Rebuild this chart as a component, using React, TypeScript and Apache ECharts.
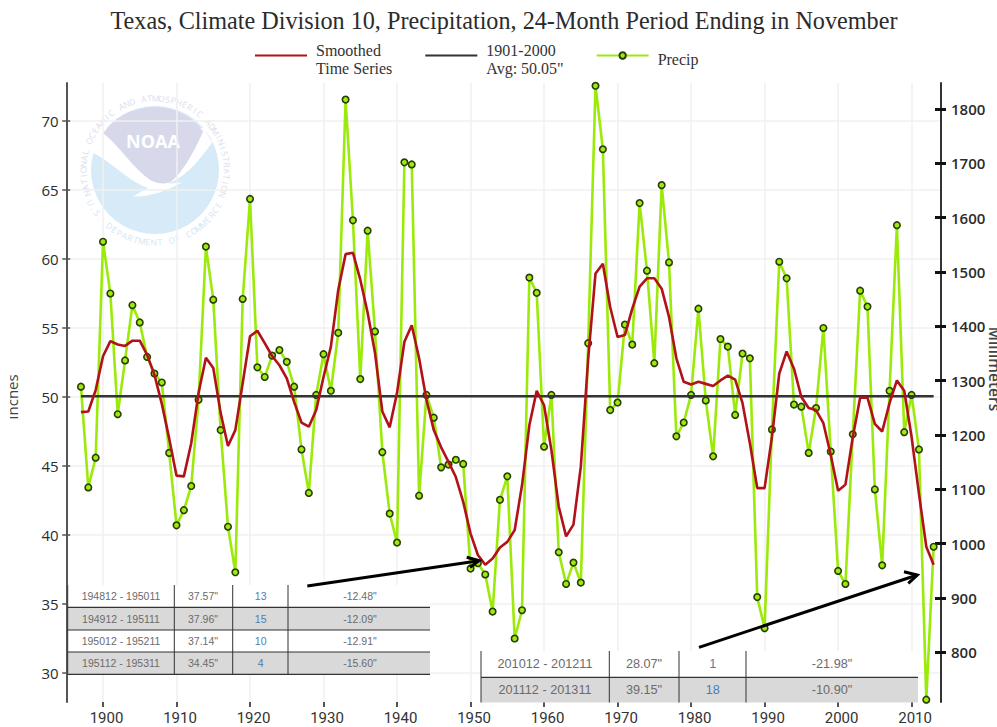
import React, { useEffect, useRef } from "react";
import * as echarts from "echarts";

const FIRST_YEAR = 1897;
const precip = [
  50.75, 43.45, 45.6, 61.25, 57.5, 48.75, 52.65, 56.65, 55.4, 52.9,
  51.7, 51.05, 45.95, 40.7, 41.8, 43.55, 49.8, 60.9, 57.05, 47.6,
  40.6, 37.3, 57.1, 64.35, 52.15, 51.45, 53.0, 53.4, 52.55, 50.75,
  46.2, 43.05, 50.15, 53.1, 50.45, 54.65, 71.55, 62.8, 51.3, 62.05,
  54.75, 46.0, 41.55, 39.45, 67.0, 66.85, 42.85, 50.15, 48.5, 44.9,
  45.1, 45.45, 45.15, 37.57, 37.96, 37.14, 34.45, 42.55, 44.25, 32.5,
  34.55, 58.65, 57.55, 46.4, 50.15, 38.75, 36.45, 38.0, 36.55, 53.9,
  72.55, 67.95, 49.05, 49.6, 55.25, 53.8, 64.05, 59.15, 52.45, 65.35,
  59.75, 47.15, 48.15, 50.15, 56.4, 49.75, 45.7, 54.2, 53.65, 48.7,
  53.15, 52.8, 35.5, 33.25, 47.65, 59.8, 58.6, 49.45, 49.3, 45.95,
  49.2, 55.0, 46.05, 37.4, 36.45, 47.3, 57.7, 56.55, 43.3, 37.8,
  50.45, 62.45, 47.45, 50.15, 46.2, 28.07, 39.15,
];
const smoothed = [
  48.9, 48.95, 50.5, 52.95, 54.05, 53.8, 53.7, 54.08, 54.08, 53.05,
  51.6, 49.5, 47.0, 44.3, 44.25, 46.65, 50.3, 52.85, 52.1, 48.85,
  46.45, 47.6, 51.0, 54.4, 54.8, 53.9, 52.97, 52.3, 51.35, 49.65,
  48.15, 47.85, 49.05, 51.45, 53.65, 57.75, 60.35, 60.45, 58.5, 56.1,
  53.2, 48.95, 47.8, 50.3, 54.0, 55.2, 52.8, 49.8, 47.6, 46.35,
  45.3, 44.2, 42.4, 40.1, 38.55, 37.85, 38.3, 39.1, 39.5, 40.35,
  43.6, 47.95, 50.45, 49.4, 46.15, 42.05, 39.9, 40.75, 44.95, 52.75,
  58.95, 59.65, 56.5, 54.35, 54.5, 56.4, 58.0, 58.6, 58.6, 57.85,
  55.8, 52.8, 51.1, 50.9, 51.1, 50.95, 50.8, 51.2, 51.55, 51.25,
  49.55, 46.65, 43.4, 43.4, 47.1, 51.7, 53.3, 52.05, 50.0, 49.2,
  49.05, 48.1, 45.8, 43.2, 43.65, 47.1, 49.95, 49.95, 48.05, 47.5,
  49.55, 51.2, 50.45, 47.1, 43.0, 39.15, 37.85,
];
const AVERAGE = 50.05;

const xTicks = [1900, 1910, 1920, 1930, 1940, 1950, 1960, 1970, 1980, 1990, 2000, 2010];
const inchTicks = [30, 35, 40, 45, 50, 55, 60, 65, 70];
const mmTicks = [800, 900, 1000, 1100, 1200, 1300, 1400, 1500, 1600, 1700, 1800];

const TITLE = "Texas, Climate Division 10, Precipitation, 24-Month Period Ending in November";
const SMOOTH_NAME = "Smoothed\nTime Series";
const AVG_NAME = '1901-2000\nAvg: 50.05"';
const PRECIP_NAME = "Precip";

const tableOneRows = [
  ["194812 - 195011", '37.57"', "13", '-12.48"'],
  ["194912 - 195111", '37.96"', "15", '-12.09"'],
  ["195012 - 195211", '37.14"', "10", '-12.91"'],
  ["195112 - 195311", '34.45"', "4", '-15.60"'],
];
const tableTwoRows = [
  ["201012 - 201211", '28.07"', "1", '-21.98"'],
  ["201112 - 201311", '39.15"', "18", '-10.90"'],
];

const Y_MIN = 27.9;
const Y_MAX = 72.75;
const MM = 25.4;

const CX = 155;
const CY = 170;

const CIRCLE_UP = "M 310,400 C 350,345 410,322 465,322 C 520,322 575,345 610,395 C 585,450 555,510 515,545 C 495,555 470,552 450,540 C 400,505 360,440 310,400 Z";
const BIRD =
  "M 275,458 C 330,480 385,545 445,565 C 430,572 415,580 400,590 C 450,592 500,572 548,548 L 505,552 C 560,530 600,480 637,428 L 612,385 L 300,385 Z";

function table(rows: string[][], opt: any) {
  const els: any[] = [];
  const z = 10;
  rows.forEach((row, r) => {
    const top = opt.rowTops[r];
    const bottom = opt.rowTops[r + 1];
    els.push({
      type: "rect", z,
      shape: { x: opt.left, y: top, width: opt.right - opt.left, height: bottom - top },
      style: { fill: r % 2 ? "#d9d9d9" : "#ffffff" },
    });
    row.forEach((cell, c) => {
      els.push({
        type: "text", z: z + 1, x: opt.centers[c], y: (top + bottom) / 2,
        style: {
          text: cell, font: `${opt.font}px "Liberation Sans"`,
          fill: c === 2 ? "#4f7cb5" : "#6b6b6b", align: "center", verticalAlign: "middle",
        },
      });
    });
  });
  opt.rowLines.forEach((y: number) => {
    els.push({
      type: "line", z: z + 1,
      shape: { x1: opt.left, y1: y, x2: opt.right, y2: y },
      style: { stroke: "#333", lineWidth: 1.2 },
    });
  });
  [opt.left, ...opt.cols].forEach((x: number) => {
    els.push({
      type: "line", z: z + 1,
      shape: { x1: x, y1: opt.rowTops[0], x2: x, y2: opt.rowTops[rows.length] },
      style: { stroke: "#333", lineWidth: 1 },
    });
  });
  return els;
}

function arrow(from: number[], tip: number[], b1: number[], b2: number[]) {
  const style = { stroke: "#000", lineWidth: 3, fill: "none", lineCap: "butt" };
  return [
    { type: "line", z: 12, shape: { x1: from[0], y1: from[1], x2: tip[0], y2: tip[1] }, style },
    { type: "polyline", z: 12, shape: { points: [b1, tip, b2] }, style },
  ];
}

function ringText() {
  const els: any[] = [];
  const top = "NATIONAL OCEANIC AND ATMOSPHERIC ADMINISTRATION";
  const bottom = "U.S. DEPARTMENT OF COMMERCE";
  const r = 72;
  const common = { font: '8.5px "Open Sans"', fill: "#dcdcec", align: "center", verticalAlign: "middle" };
  [...top].forEach((ch, i) => {
    const t = ((-109 + (i * 219) / (top.length - 1)) * Math.PI) / 180;
    els.push({ type: "text", z: -1, x: CX + r * Math.sin(t), y: CY - r * Math.cos(t), rotation: -t, style: { ...common, text: ch } });
  });
  [...bottom].forEach((ch, i) => {
    const t = ((-63 + (i * 124) / (bottom.length - 1)) * Math.PI) / 180;
    els.push({ type: "text", z: -1, x: CX + r * Math.sin(t), y: CY + r * Math.cos(t), rotation: t, style: { ...common, text: ch, fill: "#d3e6f4" } });
  });
  return els;
}

const legendFormatter = (name: string) =>
  "{s| }\n" + name.split("\n").map((line) => `{b|${line}}`).join("\n");

export default function App() {
  const ref = useRef<HTMLDivElement>(null);
  useEffect(() => {
    document.body.style.margin = "0";
    echarts.graphic.registerShape("noaaPurple", echarts.graphic.extendPath(CIRCLE_UP, {}));
    echarts.graphic.registerShape("noaaBird", echarts.graphic.extendPath(BIRD, {}));
    const chart = echarts.init(ref.current!, null, { renderer: "svg" });
    const tickFmt = (v: number) => String(v);
    const gridStyle = { color: "#f1f1f1", width: 1.5 };
    const legendFont = { fontFamily: "Liberation Serif", fontSize: 16, lineHeight: 18, color: "#333" };
    const option: any = {
      animation: false,
      backgroundColor: "#ffffff",
      title: {
        text: TITLE, left: 499, top: 3, textAlign: "center",
        textStyle: { fontFamily: "Liberation Serif", fontSize: 24.2, fontWeight: "normal", color: "#2b2b2b" },
      },
      legend: {
        left: 254, top: 34, itemGap: 32, itemWidth: 52, itemHeight: 8, padding: 0,
        formatter: legendFormatter,
        data: [
          { name: SMOOTH_NAME, itemStyle: { opacity: 0 } },
          { name: AVG_NAME, itemStyle: { opacity: 0 } },
          { name: PRECIP_NAME },
        ],
        textStyle: {
          ...legendFont,
          rich: {
            s: { fontSize: 4, lineHeight: 7 },
            b: { ...legendFont, padding: [0, 0, 0, 4] },
          },
        },
      },
      grid: { left: 66.7, right: 56, top: 83, bottom: 25 },
      xAxis: {
        type: "value", min: 1895.06, max: 2014,
        axisLine: { show: false },
        axisTick: { show: true, customValues: xTicks, length: 5, lineStyle: { color: "#555", width: 2 } },
        axisLabel: {
          customValues: xTicks, formatter: tickFmt, margin: 10, padding: [0, 0, 0, 7], lineHeight: 12,
          fontFamily: "Roboto", fontSize: 15, color: "#333",
        },
        splitLine: { show: true, lineStyle: gridStyle },
      },
      yAxis: [
        {
          type: "value", position: "left", min: Y_MIN, max: Y_MAX,
          axisLine: { show: true, lineStyle: { color: "#555", width: 2 } },
          axisTick: { show: true, customValues: inchTicks, length: 4.5, lineStyle: { color: "#555", width: 1.5 } },
          axisLabel: {
            customValues: inchTicks, formatter: tickFmt, margin: 8, padding: [6, 0, 0, 0],
            fontFamily: "Open Sans", fontSize: 15, color: "#2b2b2b",
          },
          splitLine: { show: true, lineStyle: gridStyle },
        },
        {
          type: "value", position: "right", min: Y_MIN * MM, max: Y_MAX * MM,
          axisLine: { show: true, lineStyle: { color: "#333", width: 2 } },
          axisTick: { show: true, customValues: mmTicks, length: 5, lineStyle: { color: "#111", width: 3 } },
          axisLabel: {
            customValues: mmTicks, formatter: tickFmt, margin: 10, padding: [5, 0, 0, 0],
            fontFamily: "Open Sans", fontWeight: 600, fontSize: 15, color: "#2b2b2b",
          },
          splitLine: { show: false },
        },
        {
          type: "value", position: "left", min: Y_MIN, max: Y_MAX,
          axisLine: { show: false },
          axisTick: { show: true, inside: true, customValues: inchTicks, length: 3.5, lineStyle: { color: "#555", width: 1.5 } },
          axisLabel: { show: false }, splitLine: { show: false },
        },
        {
          type: "value", position: "right", min: Y_MIN * MM, max: Y_MAX * MM,
          axisLine: { show: false },
          axisTick: { show: true, inside: true, customValues: mmTicks, length: 6, lineStyle: { color: "#111", width: 3 } },
          axisLabel: { show: false }, splitLine: { show: false },
        },
      ],
      series: [
        {
          name: PRECIP_NAME, type: "line", xAxisIndex: 0, yAxisIndex: 0, z: 2,
          data: precip.map((v, i) => [FIRST_YEAR + i, v]),
          symbol: "circle", symbolSize: 6.5, showSymbol: true, clip: false,
          lineStyle: { color: "#9bea0a", width: 2.6 },
          itemStyle: { color: "#a0e810", borderColor: "#263f00", borderWidth: 1.6 },
        },
        {
          name: AVG_NAME, type: "line", xAxisIndex: 0, yAxisIndex: 0, z: 3,
          data: precip.map((_, i) => [FIRST_YEAR + i, AVERAGE]),
          symbol: "none", lineStyle: { color: "#333", width: 2.5 }, itemStyle: { color: "#333" },
        },
        {
          name: SMOOTH_NAME, type: "line", xAxisIndex: 0, yAxisIndex: 0, z: 4,
          data: smoothed.map((v, i) => [FIRST_YEAR + i, v]),
          symbol: "none", lineStyle: { color: "#b01218", width: 2.6 }, itemStyle: { color: "#b01218" },
        },
      ],
      graphic: {
        elements: [
          { type: "circle", z: -1, shape: { cx: CX, cy: CY, r: 64 }, style: { fill: "#d6eaf8" } },
          { type: "noaaBird", z: -1, scaleX: 1 / 3, scaleY: 1 / 3, style: { fill: "#ffffff" } },
          { type: "noaaPurple", z: -1, scaleX: 1 / 3, scaleY: 1 / 3, style: { fill: "#d8d8eb" } },
          {
            type: "text", z: -1, x: 153, y: 141,
            style: { text: "NOAA", font: 'bold 18px "Open Sans"', fill: "#ffffff", align: "center", verticalAlign: "middle" },
          },
          ...ringText(),
          {
            type: "text", x: 11.5, y: 397, rotation: Math.PI / 2,
            style: { text: "Inches", font: '15px "Open Sans"', fill: "#444", align: "center", verticalAlign: "middle" },
          },
          { type: "rect", z: 5, shape: { x: 0, y: 360, width: 10, height: 70 }, style: { fill: "#fff" } },
          {
            type: "text", x: 995, y: 369, rotation: -Math.PI / 2,
            style: { text: "Millimeters", font: '600 15.5px "Open Sans"', fill: "#444", align: "center", verticalAlign: "middle" },
          },
          ...table(tableOneRows, {
            left: 67.7, right: 430,
            rowTops: [585, 607.3, 630, 652, 674.3],
            rowLines: [607.3, 630, 652, 674.3],
            cols: [174.3, 232.7, 288],
            centers: [121, 203, 260.7, 360],
            font: 10.5,
          }),
          ...table(tableTwoRows, {
            left: 481, right: 918,
            rowTops: [651, 677.3, 702.5],
            rowLines: [677.3],
            cols: [609.3, 679, 746],
            centers: [545, 644, 712.7, 832],
            font: 12.7,
          }),
          ...arrow([307.3, 586], [479, 560.7], [466.7, 557.3], [470, 567.3]),
          ...arrow([699, 647.3], [917.3, 575], [904, 571.7], [908.3, 583.3]),
        ],
      },
    };
    chart.setOption(option);
    return () => chart.dispose();
  }, []);
  return <div ref={ref} style={{ position: "fixed", left: 0, top: 0, width: 997, height: 727 }} />;
}
